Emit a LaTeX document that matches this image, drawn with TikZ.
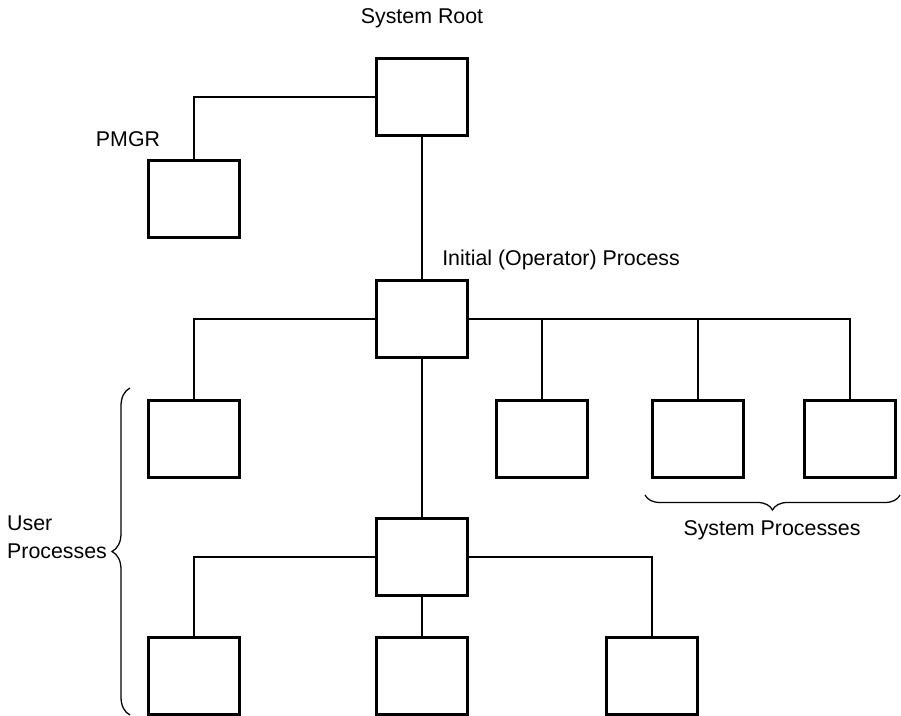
\documentclass[tikz,border=0pt]{standalone}
\usepackage{fontspec}
\setmainfont{Liberation Sans}
\usepackage{tikz}
\usetikzlibrary{decorations.pathreplacing}
\pgfdeclarelayer{nodelayer}
\pgfdeclarelayer{edgelayer}
\pgfsetlayers{nodelayer,edgelayer,main}
\tikzset{
  proc/.style={draw, line width=2pt, minimum width=2.275cm, minimum height=1.925cm, inner sep=0pt},
  lbl/.style={font=\fontsize{15.2}{18}\selectfont, inner sep=0pt},
  link/.style={line width=0.9pt},
  curly/.style={line width=0.9pt, decorate, decoration={brace}}
}
\begin{document}
\begin{tikzpicture}
  \useasboundingbox (0, 0) rectangle (22.525, 17.875);
  \begin{pgfonlayer}{nodelayer}
    \node [proc] (0) at (10.55, 15.45) {};
    \node [proc] (1) at (4.85, 12.9) {};
    \node [proc] (2) at (10.55, 9.9) {};
    \node [proc] (3) at (4.85, 6.9) {};
    \node [proc] (4) at (13.55, 6.9) {};
    \node [proc] (5) at (17.45, 6.9) {};
    \node [proc] (6) at (21.25, 6.9) {};
    \node [proc] (7) at (10.55, 3.95) {};
    \node [proc] (8) at (4.85, 0.975) {};
    \node [proc] (9) at (10.55, 0.975) {};
    \node [proc] (10) at (16.3, 0.975) {};
    \node [lbl] (11) at (10.55, 17.425) {System Root};
    \node [lbl] (12) at (3.2, 14.4) {PMGR};
    \node [lbl, anchor=west] (13) at (11.05, 11.375) {Initial (Operator) Process};
    \node [lbl] (14) at (19.3, 4.625) {System Processes};
    \node [lbl, anchor=east, align=left] (15) at (2.68, 4.45) {User\\[2pt]Processes};
    \coordinate (16) at (3.25, 0);
    \coordinate (17) at (3.25, 8.175);
    \coordinate (18) at (22.5, 5.5);
    \coordinate (19) at (16.125, 5.5);
  \end{pgfonlayer}
  \begin{pgfonlayer}{edgelayer}
    \draw [link] (0.west) -| (1.north);
    \draw [link] (0) to (2);
    \draw [link] (2.west) -| (3.north);
    \draw [link] (2.east) -| (4.north);
    \draw [link] (2.east) -| (5.north);
    \draw [link] (2.east) -| (6.north);
    \draw [link] (2) to (7);
    \draw [link] (7.west) -| (8.north);
    \draw [link] (7) to (9);
    \draw [link] (7.east) -| (10.north);
    \draw [curly, decoration={amplitude=0.45cm}] (16) to (17);
    \draw [curly, decoration={amplitude=0.375cm}] (18) to (19);
  \end{pgfonlayer}
\end{tikzpicture}
\end{document}
